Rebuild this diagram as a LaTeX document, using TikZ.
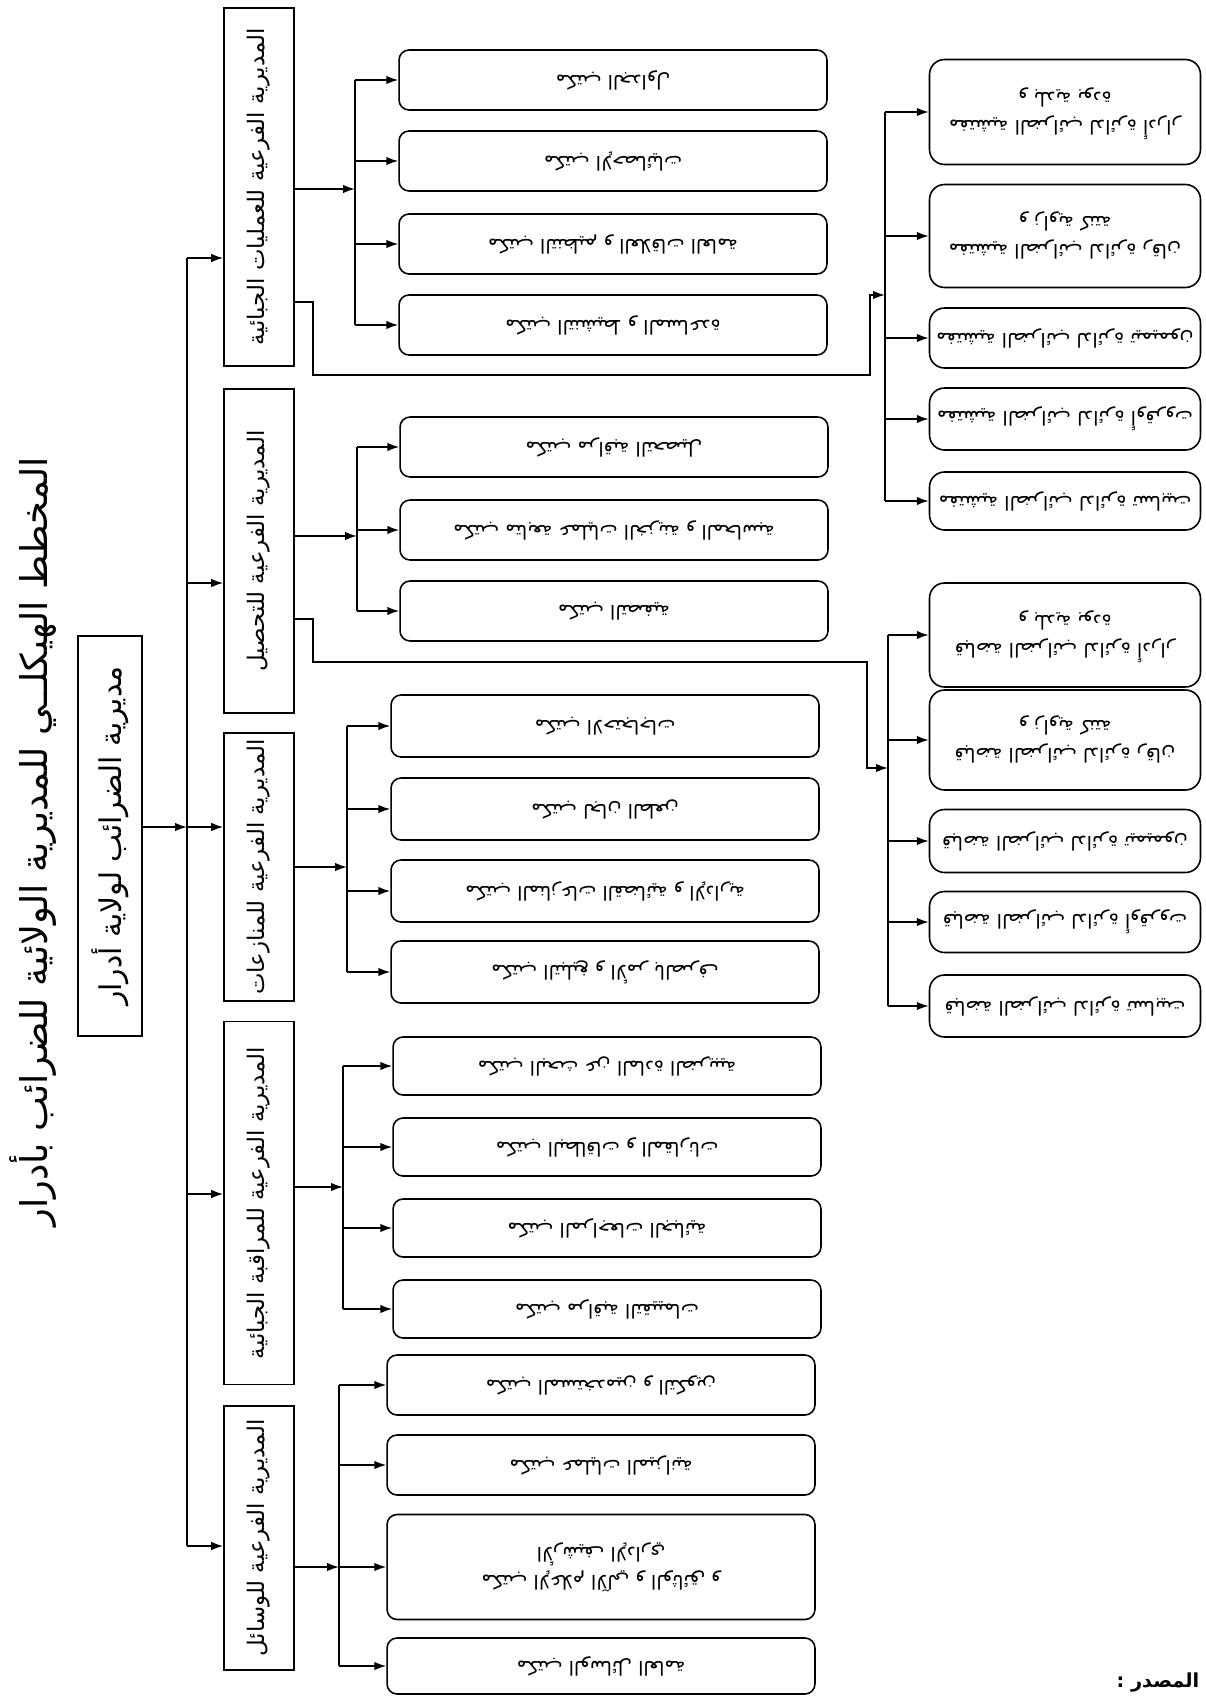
\documentclass[tikz,border=0pt]{standalone}
\usepackage{fontspec}
\usepackage{graphicx}
\newfontfamily\arabicfont[Script=Arabic]{DejaVu Sans}
\TeXXeTstate=1
\usetikzlibrary{arrows.meta, positioning}
\newcommand{\arb}[1]{{\arabicfont #1}}
\newcommand{\vlab}[1]{\rotatebox{90}{\arb{#1}}}
\newcommand{\flab}[1]{\rotatebox{180}{\arb{#1}}}
\newcommand{\flabb}[2]{\rotatebox{180}{\renewcommand{\arraystretch}{1.25}\begin{tabular}{@{}c@{}}\arb{#1}\\\arb{#2}\end{tabular}}}
\tikzset{
  every picture/.style={line width=0.9pt},
  titletext/.style={inner sep=0pt, font=\fontsize{21pt}{24pt}\selectfont},
  headbox/.style={draw, minimum width=1.28cm, minimum height=8cm, inner sep=0pt, font=\fontsize{17pt}{20pt}\selectfont},
  subbox/.style={draw, minimum width=1.4cm, inner sep=0pt, font=\fontsize{13pt}{16pt}\selectfont},
  office/.style={draw, rounded corners=0.2cm, minimum width=8.56cm, minimum height=1.2cm, inner sep=0pt, font=\fontsize{11pt}{13pt}\selectfont},
  unit/.style={draw, rounded corners=0.3cm, minimum width=5.42cm, inner sep=0pt, font=\fontsize{11pt}{13pt}\selectfont},
  arr/.style={-{Latex[length=2.4mm, width=1.7mm]}},
  source/.style={inner sep=0pt, anchor=east, font=\bfseries\fontsize{11pt}{13pt}\selectfont},
}

\begin{document}
\begin{tikzpicture}[x=0.02cm, y=-0.02cm]
  \useasboundingbox (0,0) rectangle (1205,1697);
  % title and head office
  \node[titletext] (title) at (33,842) {\vlab{\beginR المخطط الهيكلــي للمديرية الولائية للضرائب بأدرار\endR}};
  \node[headbox] (head) at (110,836) {\vlab{\beginR مديرية الضرائب لولاية أدرار\endR}};
  % sub-directorates
  \node[subbox, minimum height=7.16cm] (sA) at (259,187) {\vlab{\beginR المديرية الفرعية للعمليات الجبائية\endR}};
  \node[subbox, minimum height=6.48cm] (sB) at (259,551) {\vlab{\beginR المديرية الفرعية للتحصيل\endR}};
  \node[subbox, minimum height=5.36cm] (sC) at (259,867) {\vlab{\beginR المديرية الفرعية للمنازعات\endR}};
  \node[subbox, minimum height=7.26cm] (sD) at (259,1203) {\vlab{\beginR المديرية الفرعية للمراقبة الجبائية\endR}};
  \node[subbox, minimum height=5.28cm] (sE) at (259,1538) {\vlab{\beginR المديرية الفرعية للوسائل\endR}};
  % trunk
  \coordinate (tM) at (187,827);
  \coordinate (tA) at (187,258);
  \coordinate (tB) at (187,583);
  \coordinate (tD) at (187,1194);
  \coordinate (tE) at (187,1546);
  \draw (tA) -- (tE);
  \draw[arr] (head.east |- tM) -- (tM);
  \draw[arr] (tM) -- (tM -| sC.west);
  \foreach \s in {A,B,D,E} \draw[arr] (t\s) -- (t\s -| s\s.west);

  % offices: operations
  \coordinate (bA) at (355,189);
  \draw[arr] (sA.east |- bA) -- (bA);
  \foreach \i/\y/\txt in {1/80/{\beginR مكتب الجداول\endR}, 2/161/{\beginR مكتب الإحصائيات\endR}, 3/244/{\beginR مكتب التنظيم و العلاقات العامة\endR}, 4/325/{\beginR مكتب التنشيط و المساعدة\endR}} {
    \node[office] (oA\i) at (613,\y) {\flab{\txt}};
    \draw[arr] (oA\i.west -| bA) -- (oA\i.west);
  }
  \draw (oA1.west -| bA) -- (oA4.west -| bA);

  % offices: collection
  \coordinate (bB) at (357,536);
  \draw[arr] (sB.east |- bB) -- (bB);
  \foreach \i/\y/\txt in {1/447/{\beginR مكتب مراقبة التحصيل\endR}, 2/530/{\beginR مكتب متابعة عمليات الخزينة و المحاسبة\endR}, 3/611/{\beginR مكتب التصفية\endR}} {
    \node[office] (oB\i) at (614,\y) {\flab{\txt}};
    \draw[arr] (oB\i.west -| bB) -- (oB\i.west);
  }
  \draw (oB1.west -| bB) -- (oB3.west -| bB);

  % offices: disputes
  \coordinate (bC) at (347,867);
  \draw[arr] (sC.east |- bC) -- (bC);
  \foreach \i/\y/\txt in {1/726/{\beginR مكتب الاحتجاجات\endR}, 2/809/{\beginR مكتب لجان الطعن\endR}, 3/891/{\beginR مكتب المنازعات القضائية و الإدارية\endR}, 4/972/{\beginR مكتب التبليغ و الأمر بالصرف\endR}} {
    \node[office, minimum height=1.24cm] (oC\i) at (605,\y) {\flab{\txt}};
    \draw[arr] (oC\i.west -| bC) -- (oC\i.west);
  }
  \draw (oC1.west -| bC) -- (oC4.west -| bC);

  % offices: tax control
  \coordinate (bD) at (343,1187);
  \draw[arr] (sD.east |- bD) -- (bD);
  \foreach \i/\y/\txt in {1/1066/{\beginR مكتب البحث عن المادة الضريبية\endR}, 2/1147/{\beginR مكتب البطاقات و المقارنات\endR}, 3/1228/{\beginR مكتب المراجعات الجبائية\endR}, 4/1309/{\beginR مكتب مراقبة التقييمات\endR}} {
    \node[office, minimum height=1.16cm] (oD\i) at (607,\y) {\flab{\txt}};
    \draw[arr] (oD\i.west -| bD) -- (oD\i.west);
  }
  \draw (oD1.west -| bD) -- (oD4.west -| bD);

  % offices: means
  \node[office] (oE1) at (601,1385) {\flab{\beginR مكتب المستخدمين و التكوين\endR}};
  \node[office] (oE2) at (601,1465) {\flab{\beginR مكتب عمليات الميزانية\endR}};
  \node[office, minimum height=2.1cm] (oE3) at (601,1567) {\flabb{\beginR مكتب الإعلام الآلي و الوثائق و\endR}{\beginR الأرشيف الإداري\endR}};
  \node[office, minimum height=1.12cm] (oE4) at (601,1666) {\flab{\beginR مكتب الوسائل العامة\endR}};
  \coordinate (bE) at (339,1567);
  \draw[arr] (sE.east |- bE) -- (bE);
  \foreach \i in {1,...,4} \draw[arr] (oE\i.west -| bE) -- (oE\i.west);
  \draw (oE1.west -| bE) -- (oE4.west -| bE);

  % inspections, fed from the operations sub-directorate
  \node[unit, minimum height=2.1cm] (uI1) at (1065,112) {\flabb{\beginR مفتشية الضرائب لدائرة أدرار\endR}{\beginR و بلدية بودة\endR}};
  \node[unit, minimum height=2.06cm] (uI2) at (1065,236) {\flabb{\beginR مفتشية الضرائب لدائرة رقان\endR}{\beginR و زاوية كنتة\endR}};
  \node[unit, minimum height=1.2cm] (uI3) at (1065,338) {\flab{\beginR مفتشية الضرائب لدائرة تيميمون\endR}};
  \node[unit, minimum height=1.24cm] (uI4) at (1065,419) {\flab{\beginR مفتشية الضرائب لدائرة أوقروت\endR}};
  \node[unit, minimum height=1.16cm] (uI5) at (1065,501) {\flab{\beginR مفتشية الضرائب لدائرة تسابيت\endR}};
  \coordinate (kA) at (313,302);
  \coordinate (bI) at (885,295);
  \draw[arr] (sA.east |- kA) -- (kA) |- (870,375) |- (bI);
  \foreach \i in {1,...,5} \draw[arr] (uI\i.west -| bI) -- (uI\i.west);
  \draw (uI1.west -| bI) -- (uI5.west -| bI);

  % collection offices, fed from the collection sub-directorate
  \node[unit, minimum height=2.08cm] (uR1) at (1065,635) {\flabb{\beginR قباضة الضرائب لدائرة أدرار\endR}{\beginR و بلدية بودة\endR}};
  \node[unit, minimum height=2cm] (uR2) at (1065,740) {\flabb{\beginR قباضة الضرائب لدائرة رقان\endR}{\beginR و زاوية كنتة\endR}};
  \node[unit, minimum height=1.26cm] (uR3) at (1065,841) {\flab{\beginR قباضة الضرائب لدائرة تيميمون\endR}};
  \node[unit, minimum height=1.22cm] (uR4) at (1065,922) {\flab{\beginR قباضة الضرائب لدائرة أوقروت\endR}};
  \node[unit, minimum height=1.24cm] (uR5) at (1065,1006) {\flab{\beginR قباضة الضرائب لدائرة تسابيت\endR}};
  \coordinate (kB) at (313,619);
  \coordinate (bR) at (888,768);
  \draw[arr] (sB.east |- kB) -- (kB) |- (867,662) |- (bR);
  \foreach \i in {1,...,5} \draw[arr] (uR\i.west -| bR) -- (uR\i.west);
  \draw (uR1.west -| bR) -- (uR5.west -| bR);

  \node[source] (src) at (1200,1682) {\arb{\beginR المصدر :\endR}};
\end{tikzpicture}
\end{document}
